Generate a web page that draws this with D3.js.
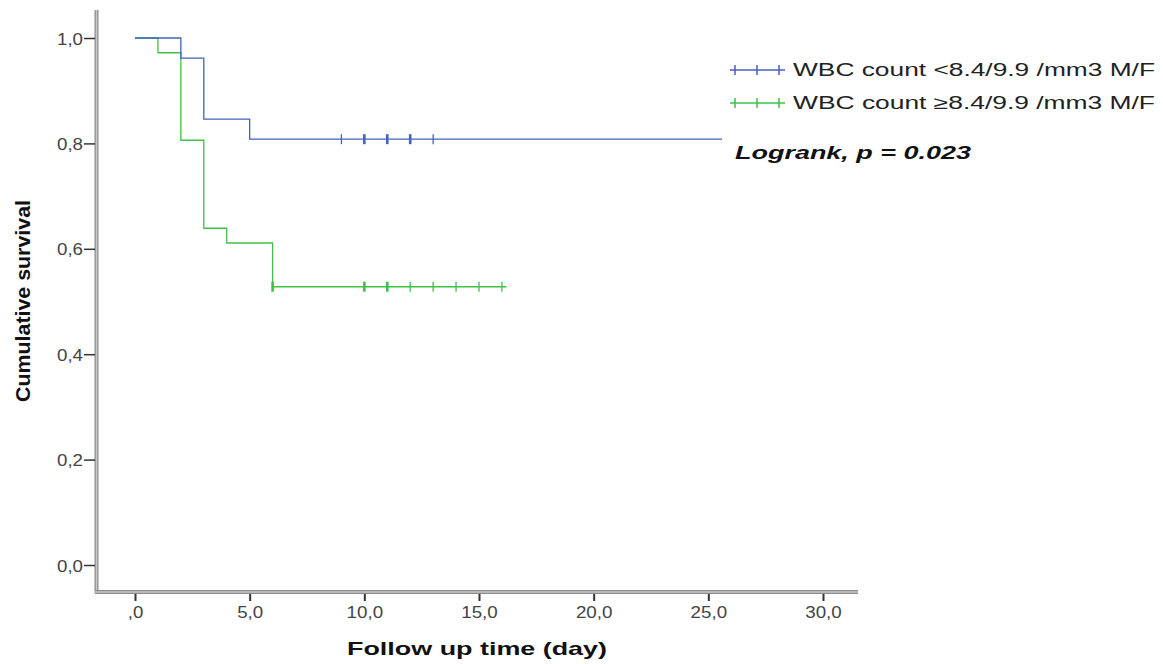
<!DOCTYPE html>
<html><head><meta charset="utf-8">
<script src="https://cdn.jsdelivr.net/npm/d3@7"></script>
<style>body{margin:0;background:#fff;}svg{display:block;}</style>
</head><body>
<svg id="c" width="1163" height="664"></svg>
<script>
// ---- data ----
const xTicks = [0,5,10,15,20,25,30];
const xTickLabels = [",0","5,0","10,0","15,0","20,0","25,0","30,0"];
const yTicks = [0,0.2,0.4,0.6,0.8,1.0];
const yTickLabels = ["0,0","0,2","0,4","0,6","0,8","1,0"];
const seriesNames = ["WBC count <8.4/9.9 /mm3 M/F","WBC count \u22658.4/9.9 /mm3 M/F"];
const lowTimes = [0,2,3,5];
const lowSurv = [1.0,0.962,0.846,0.808];
const lowEnd = 25.6;
const lowCensorTimes = [9,10,11,12,13];
const lowCensorCounts = [1,2,2,2,1];
const highTimes = [0,1,2,3,4,6];
const highSurv = [1.0,0.972,0.806,0.639,0.611,0.528];
const highEnd = 16.2;
const highCensorTimes = [6,10,11,12,13,14,15,16];
const highCensorCounts = [2,2,2,1,1,1,1,1];
const colors = ["#4461c0","#3fc04b"];

const svg = d3.select("#c");
const x = d3.scaleLinear().domain([0,30]).range([135,823]);
const y = d3.scaleLinear().domain([0,1]).range([565,38]);
const font = "Arial, 'Liberation Sans', sans-serif";
const labLen = s => s.replace(/[^0-9]/g,"").length*10.5 + s.replace(/[0-9]/g,"").length*5;

// axes lines (gray double-edged look)
function axLine(x1,y1,x2,y2){
  svg.append("line").attr("x1",x1).attr("x2",x2).attr("y1",y1).attr("y2",y2).attr("stroke","#8c8c8c").attr("stroke-width",4);
  svg.append("line").attr("x1",x1).attr("x2",x2).attr("y1",y1).attr("y2",y2).attr("stroke","#c8c8c8").attr("stroke-width",1.5);
}
axLine(96.5,10,96.5,593);
axLine(95,592,858,592);

// y ticks
const yAxis = d3.axisLeft(y).tickValues(yTicks).tickSize(11).tickFormat((d,i)=>yTickLabels[i]);
const gy = svg.append("g").attr("transform","translate(95,0)").call(yAxis);
gy.select(".domain").remove();
gy.attr("font-size",null).attr("font-family",null);
gy.selectAll(".tick line").attr("stroke","#333").attr("stroke-width",1.5);
gy.selectAll(".tick text").style("font-family",font).style("font-size","17px").attr("fill","#444").attr("x",-12).attr("dy","0.36em")
  .attr("textLength",(d,i)=>labLen(yTickLabels[i])).attr("lengthAdjust","spacingAndGlyphs");

// x ticks
const xAxis = d3.axisBottom(x).tickValues(xTicks).tickSize(7).tickFormat((d,i)=>xTickLabels[i]);
const gx = svg.append("g").attr("transform","translate(0,594)").call(xAxis);
gx.select(".domain").remove();
gx.attr("font-size",null).attr("font-family",null);
gx.selectAll(".tick line").attr("stroke","#333").attr("stroke-width",2);
gx.selectAll(".tick text").style("font-family",font).style("font-size","17px").attr("fill","#444").attr("y",12)
  .attr("textLength",(d,i)=>labLen(xTickLabels[i])).attr("lengthAdjust","spacingAndGlyphs");

// curves
function stepPts(times, surv, end){
  const pts=[];
  for(let i=0;i<times.length;i++){
    if(i>0) pts.push([times[i],surv[i-1]]);
    pts.push([times[i],surv[i]]);
  }
  pts.push([end,surv[surv.length-1]]);
  return pts;
}
function survAt(times,surv,t){let s=surv[0];for(let i=0;i<times.length;i++){if(times[i]<=t)s=surv[i];}return s;}
const line = d3.line().x(d=>x(d[0])).y(d=>y(d[1]));
const groups = [
  {times:lowTimes,surv:lowSurv,end:lowEnd,ct:lowCensorTimes,cc:lowCensorCounts,col:colors[0]},
  {times:highTimes,surv:highSurv,end:highEnd,ct:highCensorTimes,cc:highCensorCounts,col:colors[1]}
];
[groups[1],groups[0]].forEach(g=>{
  svg.append("path").attr("d",line(stepPts(g.times,g.surv,g.end))).attr("fill","none").attr("stroke",g.col).attr("stroke-width",1.3);
  g.ct.forEach((t,i)=>{
    const s = survAt(g.times,g.surv,t);
    svg.append("line").attr("x1",x(t)).attr("x2",x(t)).attr("y1",y(s)-5).attr("y2",y(s)+5)
      .attr("stroke",g.col).attr("stroke-width",g.cc[i]>1?2.6:1.3);
  });
});

// legend
const lx0=730, lx1=785;
[70,103].forEach((ly,i)=>{
  svg.append("line").attr("x1",lx0).attr("x2",lx1).attr("y1",ly).attr("y2",ly).attr("stroke",colors[i]).attr("stroke-width",1.5);
  [735,757,779].forEach(cx=>{
    svg.append("line").attr("x1",cx).attr("x2",cx).attr("y1",ly-5).attr("y2",ly+5).attr("stroke",colors[i]).attr("stroke-width",1.5);
  });
  svg.append("text").attr("x",793).attr("y",ly+6).text(seriesNames[i])
    .attr("font-family",font).attr("font-size",18).attr("fill","#222")
    .attr("textLength",362).attr("lengthAdjust","spacingAndGlyphs");
});

svg.append("text").attr("x",735).attr("y",159).text("Logrank, p = 0.023")
  .attr("font-family",font).attr("font-size",18).attr("font-weight","bold").attr("font-style","italic").attr("fill","#111")
  .attr("textLength",236).attr("lengthAdjust","spacingAndGlyphs");

// axis titles
svg.append("text").attr("x",477).attr("y",655).attr("text-anchor","middle").text("Follow up time (day)")
  .attr("font-family",font).attr("font-size",19).attr("font-weight","bold").attr("fill","#111")
  .attr("textLength",260).attr("lengthAdjust","spacingAndGlyphs");
svg.append("text").attr("transform","translate(30,301) rotate(-90)").attr("text-anchor","middle").text("Cumulative survival")
  .attr("font-family",font).attr("font-size",21).attr("font-weight","bold").attr("fill","#111")
  .attr("textLength",202).attr("lengthAdjust","spacingAndGlyphs");
</script>
</body></html>
